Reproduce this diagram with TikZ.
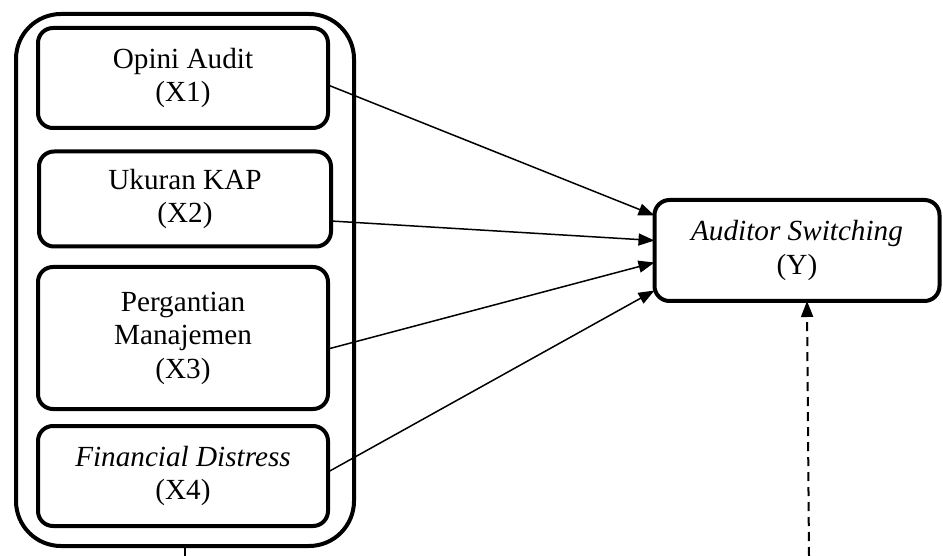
\documentclass[tikz,border=0pt]{standalone}
\usepackage{fontspec}
\setmainfont{Liberation Serif}
\usetikzlibrary{arrows.meta}
\begin{document}
\begin{tikzpicture}[x=1pt,y=-1pt,
  every node/.style={font=\fontsize{29.2}{33.5}\selectfont},
  varbox/.style={draw,line width=4pt,rounded corners=15pt,align=center,inner sep=0pt,outer sep=0pt,minimum width=290pt},
  arr/.style={line width=1.5pt,-{Triangle[length=16pt,width=12pt]}},
  darr/.style={line width=2pt,dash pattern=on 9pt off 6pt,-{Triangle[length=16pt,width=12pt]}}]
\useasboundingbox (0,0) rectangle (943,556);
\node[draw,line width=4pt,rounded corners=45pt,minimum width=338pt,minimum height=532pt,inner sep=0pt,outer sep=0pt] (outer) at (185,280) {};
\node[varbox,minimum height=100pt] (b1) at (183,78) {Opini Audit\\(X1)};
\node[varbox,minimum height=95pt,minimum width=292pt] (b2) at (185,199) {Ukuran KAP\\(X2)};
\node[varbox,minimum height=142pt] (b3) at (183,338) {Pergantian\\Manajemen\\(X3)};
\node[varbox,minimum height=100pt] (b4) at (183,476) {\textit{Financial Distress}\\(X4)};
\node[varbox,minimum height=101pt,minimum width=285pt] (y) at (797,250.5) {\textit{Auditor Switching}\\(Y)};
\draw[arr] ([yshift=-7pt]b1.east) -- ([yshift=35pt]y.west);
\draw[arr] ([yshift=-22pt]b2.east) -- ([yshift=10pt]y.west);
\draw[arr] ([yshift=-11pt]b3.east) -- ([yshift=-12pt]y.west);
\draw[arr] ([yshift=4pt]b4.east) -- ([yshift=-40pt]y.west);
\coordinate (dbot) at (809,556);
\coordinate (sbot) at (185,556);
\draw[darr] (dbot) -- ([xshift=10pt]y.south);
\draw[line width=1.5pt] (outer.south) -- (sbot);
\end{tikzpicture}
\end{document}
